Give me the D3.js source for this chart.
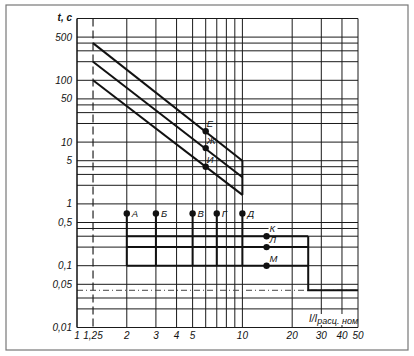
<!DOCTYPE html>
<html>
<head>
<meta charset="utf-8">
<script src="https://cdn.jsdelivr.net/npm/d3@7"></script>
<style>
  body { margin: 0; background: #fff; }
  text { font-family: "Liberation Sans", "DejaVu Sans", sans-serif; font-style: italic; fill: #111; }
</style>
</head>
<body>
<div id="chart"></div>
<script>
// grid lines (current ratio, time)
const xGrid = [2, 3, 4, 5, 6, 7, 8, 9, 10, 20, 30, 40, 50];
const xDashed = [1.25];
const yGrid = [1000, 500, 400, 300, 200, 100, 50, 40, 30, 20, 10, 5, 4, 3, 2, 1, 0.5, 0.4, 0.3, 0.2, 0.1, 0.05, 0.03, 0.02, 0.01];
const yDashed = [0.04];

// tick labels
const xTicks = [1, 1.25, 2, 3, 4, 5, 10, 20, 30, 40, 50];
const xTickLabels = ["1", "1,25", "2", "3", "4", "5", "10", "20", "30", "40", "50"];
const yTicks = [500, 100, 50, 10, 5, 1, 0.5, 0.1, 0.05, 0.01];
const yTickLabels = ["500", "100", "50", "10", "5", "1", "0,5", "0,1", "0,05", "0,01"];

// time-current curves (start at 1.25, end at 10)
const curveTop = [[1.25, 400], [10, 5]];
const curveMid = [[1.25, 200], [10, 2.7]];
const curveLow = [[1.25, 100], [10, 1.4]];

// points on curves
const curvePoints = [[6, 15, "Е"], [6, 8, "Ж"], [6, 4, "И"]];

// instantaneous trip points
const tripPoints = [[2, 0.7, "А"], [3, 0.7, "Б"], [5, 0.7, "В"], [7, 0.7, "Г"], [10, 0.7, "Д"]];
const tripVerticals = [2, 3, 5, 7, 10];
const tripLevels = [0.3, 0.2, 0.1];
const tripFrom = 2, tripTo = 25;
const tailStep = [[25, 0.3], [25, 0.04], [50, 0.04]];
const levelPoints = [[14, 0.3, "К"], [14, 0.2, "Л"], [14, 0.1, "М"]];

const W = 414, H = 356;
const svg = d3.select("#chart").append("svg")
    .attr("width", W)
    .attr("height", H);

// page frame
svg.append("rect")
    .attr("x", 6).attr("y", 5)
    .attr("width", 402).attr("height", 345)
    .attr("fill", "none")
    .attr("stroke", "#777")
    .attr("stroke-width", 1.2);

const x = d3.scaleLog().domain([1, 50]).range([77, 358]);
const y = d3.scaleLog().domain([0.01, 1000]).range([327.5, 18.5]);

const grid = svg.append("g");
grid.selectAll(".vg")
    .data(xGrid)
    .join("line")
    .attr("x1", d => x(d)).attr("x2", d => x(d))
    .attr("y1", y(1000)).attr("y2", y(0.01))
    .attr("stroke", "#1a1a1a").attr("stroke-width", 1);

grid.selectAll(".vd")
    .data(xDashed)
    .join("line")
    .attr("x1", d => x(d)).attr("x2", d => x(d))
    .attr("y1", y(1000)).attr("y2", y(0.01))
    .attr("stroke", "#222").attr("stroke-width", 1.2)
    .attr("stroke-dasharray", "8,4");

grid.selectAll(".hg")
    .data(yGrid)
    .join("line")
    .attr("x1", x(1)).attr("x2", x(50))
    .attr("y1", d => y(d)).attr("y2", d => y(d))
    .attr("stroke", "#1a1a1a").attr("stroke-width", 1);

grid.selectAll(".hd")
    .data(yDashed)
    .join("line")
    .attr("x1", x(1)).attr("x2", x(50))
    .attr("y1", d => y(d)).attr("y2", d => y(d))
    .attr("stroke", "#444").attr("stroke-width", 1)
    .attr("stroke-dasharray", "6,3,1,3");

// left axis
svg.append("line")
    .attr("x1", x(1)).attr("x2", x(1))
    .attr("y1", y(1000)).attr("y2", y(0.01))
    .attr("stroke", "#111").attr("stroke-width", 1.5);

const line = d3.line().x(d => x(d[0])).y(d => y(d[1]));
const thick = svg.append("g")
    .attr("fill", "none")
    .attr("stroke", "#111")
    .attr("stroke-width", 2);

[curveTop, curveMid, curveLow].forEach(c => thick.append("path").attr("d", line(c)));
thick.append("path").attr("d", line([[10, curveTop[1][1]], [10, curveLow[1][1]]]));

tripVerticals.forEach(v => thick.append("path").attr("d", line([[v, 0.7], [v, 0.1]])));
tripLevels.forEach(l => thick.append("path").attr("d", line([[tripFrom, l], [tripTo, l]])));
thick.append("path").attr("d", line(tailStep));

// dots + labels
const allPoints = curvePoints.map(p => ({p, dx: 1, dy: -4}))
    .concat(tripPoints.map(p => ({p, dx: 5, dy: 3.5})))
    .concat(levelPoints.map(p => ({p, dx: 3, dy: -4})));

svg.selectAll(".dot")
    .data(allPoints)
    .join("circle")
    .attr("cx", d => x(d.p[0]))
    .attr("cy", d => y(d.p[1]))
    .attr("r", 3.2)
    .attr("fill", "#111");

// white box behind K label (it sits on a grid line)
const k = levelPoints[0];
svg.append("rect")
    .attr("x", x(k[0]) + 2).attr("y", y(k[1]) - 12)
    .attr("width", 9).attr("height", 8)
    .attr("fill", "#fff");

svg.selectAll(".lbl")
    .data(allPoints)
    .join("text")
    .attr("x", d => x(d.p[0]) + d.dx)
    .attr("y", d => y(d.p[1]) + d.dy)
    .attr("font-size", 9.5)
    .text(d => d.p[2]);

// tick labels
svg.selectAll(".xt")
    .data(xTicks)
    .join("text")
    .attr("x", d => x(d))
    .attr("y", 339)
    .attr("text-anchor", "middle")
    .attr("font-size", 10)
    .text((d, i) => xTickLabels[i]);

svg.selectAll(".yt")
    .data(yTicks)
    .join("text")
    .attr("x", 72)
    .attr("y", d => y(d) + 3.5)
    .attr("text-anchor", "end")
    .attr("font-size", 10)
    .text((d, i) => yTickLabels[i]);

// axis titles
svg.append("text")
    .attr("x", 72).attr("y", 21)
    .attr("text-anchor", "end")
    .attr("font-size", 10)
    .attr("font-weight", "bold")
    .text("t, c");

// white patch under x title so grid doesn't run through it
svg.append("rect")
    .attr("x", 307).attr("y", 314)
    .attr("width", 50).attr("height", 11)
    .attr("fill", "#fff");

const xt = svg.append("text")
    .attr("x", 309).attr("y", 322)
    .attr("font-size", 10);
xt.append("tspan").text("I/I");
xt.append("tspan").attr("dy", 2).attr("font-size", 9).text("расц. ном");
</script>
</body>
</html>
